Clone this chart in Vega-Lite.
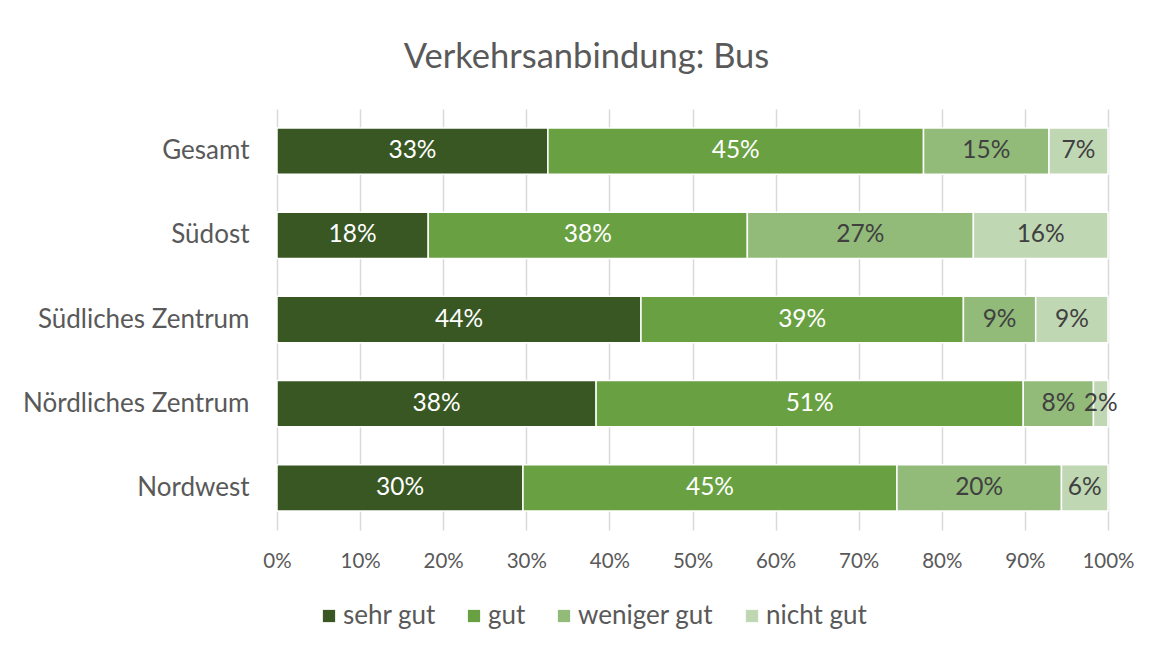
{
  "$schema": "https://vega.github.io/schema/vega-lite/v6.json",
  "width": 831,
  "height": 421,
  "autosize": {"type": "none"},
  "padding": {"left": 277, "top": 109, "right": 47, "bottom": 119},
  "background": "white",
  "config": {"font": "Lato", "view": {"stroke": null}},
  "title": {
    "text": "Verkehrsanbindung: Bus",
    "fontSize": 34.5,
    "font": "Lato",
    "fontWeight": "normal",
    "color": "#595959",
    "anchor": "middle",
    "frame": "group",
    "dx": -106,
    "offset": 7,
    "baseline": "alphabetic"
  },
  "data": {
    "values": [
      {"region": "Gesamt", "rating": "sehr gut", "rank": 1, "share": 32.6},
      {"region": "Gesamt", "rating": "gut", "rank": 2, "share": 45.2},
      {"region": "Gesamt", "rating": "weniger gut", "rank": 3, "share": 15.1},
      {"region": "Gesamt", "rating": "nicht gut", "rank": 4, "share": 7.1},
      {"region": "Südost", "rating": "sehr gut", "rank": 1, "share": 18.2},
      {"region": "Südost", "rating": "gut", "rank": 2, "share": 38.4},
      {"region": "Südost", "rating": "weniger gut", "rank": 3, "share": 27.2},
      {"region": "Südost", "rating": "nicht gut", "rank": 4, "share": 16.2},
      {"region": "Südliches Zentrum", "rating": "sehr gut", "rank": 1, "share": 43.8},
      {"region": "Südliches Zentrum", "rating": "gut", "rank": 2, "share": 38.8},
      {"region": "Südliches Zentrum", "rating": "weniger gut", "rank": 3, "share": 8.7},
      {"region": "Südliches Zentrum", "rating": "nicht gut", "rank": 4, "share": 8.7},
      {"region": "Nördliches Zentrum", "rating": "sehr gut", "rank": 1, "share": 38.4},
      {"region": "Nördliches Zentrum", "rating": "gut", "rank": 2, "share": 51.4},
      {"region": "Nördliches Zentrum", "rating": "weniger gut", "rank": 3, "share": 8.45},
      {"region": "Nördliches Zentrum", "rating": "nicht gut", "rank": 4, "share": 1.75},
      {"region": "Nordwest", "rating": "sehr gut", "rank": 1, "share": 29.6},
      {"region": "Nordwest", "rating": "gut", "rank": 2, "share": 45.0},
      {"region": "Nordwest", "rating": "weniger gut", "rank": 3, "share": 19.8},
      {"region": "Nordwest", "rating": "nicht gut", "rank": 4, "share": 5.6}
    ]
  },
  "transform": [
    {"stack": "share", "groupby": ["region"], "sort": [{"field": "rank", "order": "ascending"}], "offset": "normalize", "as": ["x0", "x1"]},
    {"calculate": "(datum.x0 + datum.x1) / 2", "as": "xm"},
    {"calculate": "format(datum.share, '.0f') + '%'", "as": "label"}
  ],
  "encoding": {
    "y": {
      "field": "region",
      "type": "nominal",
      "sort": ["Gesamt", "Südost", "Südliches Zentrum", "Nördliches Zentrum", "Nordwest"],
      "scale": {"paddingInner": 0.45, "paddingOuter": 0.225},
      "axis": {
        "title": null,
        "domain": false,
        "ticks": false,
        "tickSize": 0,
        "labelPadding": 28,
        "labelLimit": 0,
        "labelFontSize": 26,
        "labelColor": "#595959",
        "labelFont": "Lato"
      }
    }
  },
  "layer": [
    {
      "mark": {"type": "bar", "stroke": "white", "strokeWidth": 1.5},
      "encoding": {
        "x": {
          "field": "x0",
          "type": "quantitative",
          "scale": {"domain": [0, 1]},
          "axis": {
            "title": null,
            "format": ".0%",
            "values": [0, 0.1, 0.2, 0.3, 0.4, 0.5, 0.6, 0.7, 0.8, 0.9, 1],
            "grid": true,
            "gridColor": "#d9d9d9",
            "gridWidth": 1.5,
            "domain": false,
            "ticks": false,
            "tickSize": 0,
            "labelPadding": 21,
            "labelFlush": false,
            "labelFontSize": 20.5,
            "labelColor": "#595959",
            "labelFont": "Lato"
          }
        },
        "x2": {"field": "x1"},
        "color": {
          "field": "rating",
          "type": "nominal",
          "scale": {
            "domain": ["sehr gut", "gut", "weniger gut", "nicht gut"],
            "range": ["#385723", "#69a142", "#92bb7a", "#c0d7b4"]
          },
          "legend": {
            "orient": "none",
            "legendX": 39,
            "legendY": 494,
            "padding": 0,
            "direction": "horizontal",
            "title": null,
            "symbolType": "square",
            "symbolSize": 150,
            "symbolStrokeWidth": 0,
            "labelFontSize": 26,
            "labelColor": "#595959",
            "labelFont": "Lato",
            "columnPadding": 25,
            "labelOffset": 1
          }
        }
      }
    },
    {
      "mark": {"type": "text", "fontSize": 24.5, "font": "Lato"},
      "encoding": {
        "x": {"field": "xm", "type": "quantitative"},
        "text": {"field": "label"},
        "color": {
          "condition": {"test": "datum.rank <= 2", "value": "white"},
          "value": "#404040"
        }
      }
    }
  ]
}
